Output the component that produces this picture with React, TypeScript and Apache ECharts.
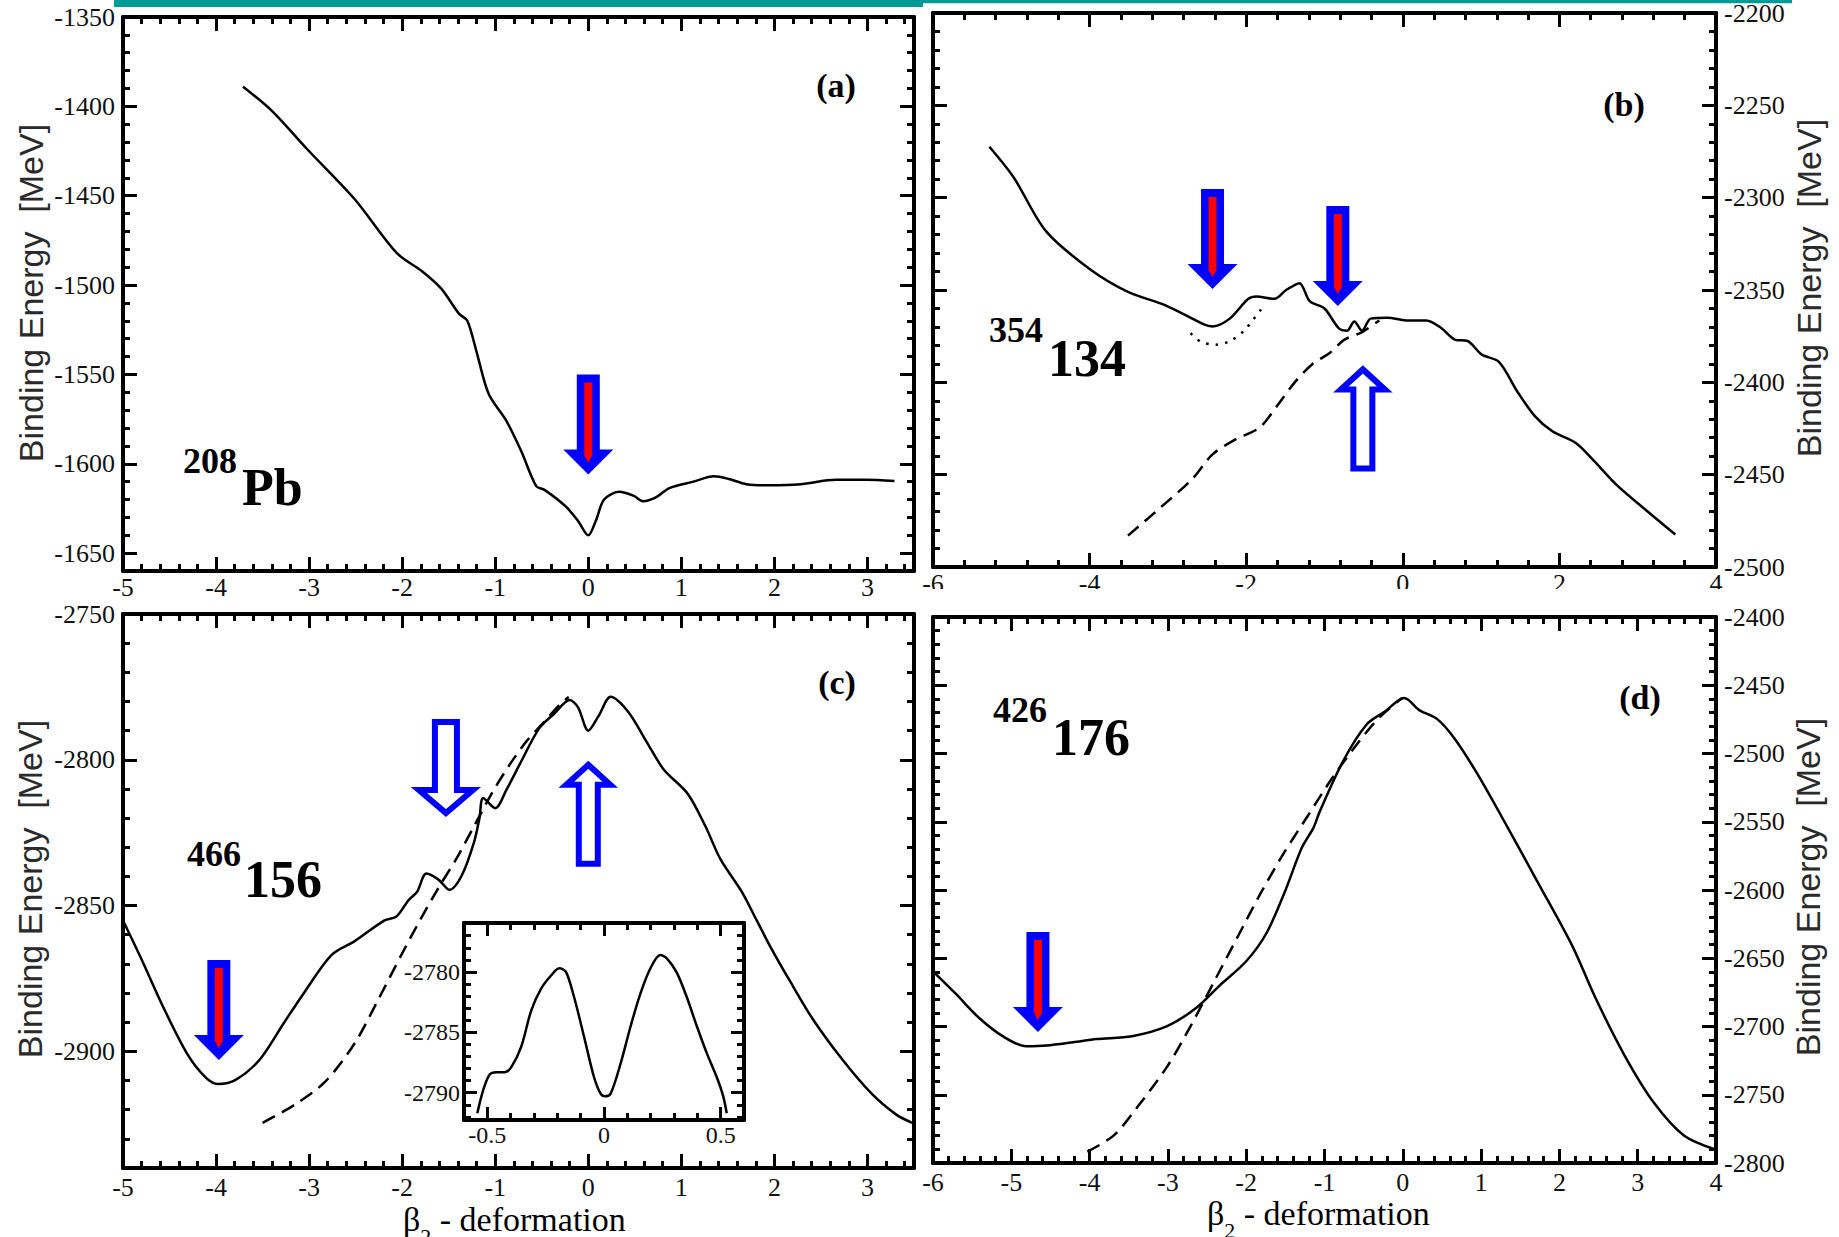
import React, { useEffect, useRef } from 'react';
import * as echarts from 'echarts';

// ---------------- data ----------------
// Panel (a) 208Pb
const aSolid: number[][] = [
  [-3.71, -1389], [-3.40, -1402.5], [-3.02, -1424], [-2.51, -1452], [-2.06, -1482], [-1.78, -1492.5],
  [-1.58, -1502], [-1.39, -1516], [-1.30, -1520], [-1.20, -1537.5], [-1.07, -1561], [-0.88, -1576],
  [-0.72, -1593], [-0.56, -1612.5], [-0.47, -1614.6], [-0.24, -1624], [-0.11, -1632], [0, -1640],
  [0.08, -1632], [0.17, -1620], [0.33, -1615.7], [0.49, -1618], [0.59, -1621], [0.72, -1619],
  [0.87, -1613.6], [1.13, -1610], [1.35, -1607], [1.51, -1608.5], [1.70, -1611.4], [1.96, -1612],
  [2.28, -1611.4], [2.66, -1609], [2.98, -1609], [3.29, -1609.7],
];
// Panel (b) 354-134
const bSolid: number[][] = [
  [-5.28, -2272.4], [-4.97, -2289], [-4.56, -2318], [-4.0, -2338.6], [-3.51, -2351], [-3.03, -2358.3],
  [-2.54, -2368.6], [-2.43, -2369.7], [-2.21, -2365.5], [-1.98, -2355], [-1.87, -2353.5], [-1.64, -2354.8],
  [-1.49, -2350], [-1.32, -2346.3], [-1.19, -2356], [-1.0, -2360], [-0.82, -2370.6], [-0.71, -2372],
  [-0.62, -2367], [-0.52, -2372], [-0.41, -2365.5], [-0.19, -2365], [0.04, -2366.5], [0.30, -2366.5],
  [0.49, -2370.6], [0.67, -2377], [0.82, -2377.5], [1.01, -2385], [1.23, -2389], [1.46, -2404.8],
  [1.68, -2418], [1.91, -2426.5], [2.21, -2432.8], [2.43, -2442], [2.73, -2455.5], [3.10, -2469],
  [3.48, -2482.4],
];
const bDotted: number[][] = [
  [-2.71, -2373.4], [-2.58, -2378], [-2.39, -2379.6], [-2.20, -2377.5], [-2.02, -2371.7], [-1.79, -2359.3],
];
const bDashed: number[][] = [
  [-3.51, -2483], [-3.10, -2468], [-2.69, -2452.4], [-2.43, -2439], [-2.13, -2430.8], [-1.83, -2424.5],
  [-1.61, -2413], [-1.38, -2400], [-1.16, -2390.3], [-0.93, -2384], [-0.75, -2377], [-0.52, -2372.8],
  [-0.30, -2366.5],
];
// Panel (c) 466-156
const cSolid: number[][] = [
  [-5, -2855.1], [-4.81, -2867.8], [-4.55, -2886], [-4.30, -2901.4], [-4.11, -2909], [-3.98, -2911.2],
  [-3.79, -2909.8], [-3.53, -2902.8], [-3.27, -2890.2], [-3.05, -2879.7], [-2.76, -2867], [-2.51, -2862.2],
  [-2.19, -2855.1], [-2.06, -2853.7], [-1.93, -2848.1], [-1.84, -2845.3], [-1.74, -2839], [-1.61, -2841.1],
  [-1.49, -2844.6], [-1.36, -2839.7], [-1.23, -2828.5], [-1.17, -2820.1], [-1.13, -2813.1], [-1.0, -2816.6],
  [-0.88, -2810.3], [-0.72, -2800.5], [-0.53, -2789.3], [-0.37, -2784.3], [-0.20, -2779.5], [-0.11, -2782],
  [0.0, -2790], [0.11, -2785], [0.24, -2778.4], [0.43, -2783.6], [0.62, -2793.5], [0.81, -2803.3],
  [1.07, -2811.7], [1.26, -2822.9], [1.42, -2834.1], [1.65, -2845.3], [1.81, -2855.1], [1.96, -2864.3],
  [2.16, -2875.5], [2.41, -2888.8], [2.73, -2902.8], [3.05, -2914.7], [3.31, -2921.7], [3.48, -2924.5],
];
const cDashed: number[][] = [
  [-3.50, -2924.5], [-3.15, -2918.2], [-2.83, -2910.5], [-2.51, -2897.2], [-2.25, -2881.8], [-2.0, -2866.4],
  [-1.81, -2855.1], [-1.61, -2843.9], [-1.42, -2834.1], [-1.23, -2822.9], [-1.04, -2811.7], [-0.85, -2801.9],
  [-0.66, -2793.5], [-0.46, -2786.5], [-0.30, -2780.8], [-0.21, -2778.5],
];
const cInset: number[][] = [
  [-0.543, -2791.7], [-0.518, -2789.8], [-0.49, -2788.5], [-0.462, -2788.3], [-0.426, -2788.3],
  [-0.398, -2787.9], [-0.355, -2786.2], [-0.312, -2783.2], [-0.27, -2781.4], [-0.227, -2780.3],
  [-0.192, -2779.7], [-0.163, -2780], [-0.128, -2782.1], [-0.085, -2785.4], [-0.043, -2788.7],
  [-0.014, -2790.1], [0.004, -2790.3], [0.028, -2790.1], [0.071, -2787.6], [0.114, -2784.5],
  [0.156, -2781.8], [0.199, -2779.7], [0.241, -2778.6], [0.27, -2778.9], [0.313, -2780.1],
  [0.355, -2782.1], [0.398, -2784.5], [0.44, -2786.7], [0.483, -2788.7], [0.511, -2790.3], [0.526, -2791.7],
];
// Panel (d) 426-176
const dSolid: number[][] = [
  [-6, -2659.6], [-5.71, -2676], [-5.41, -2693.8], [-5.11, -2707.1], [-4.81, -2714.5], [-4.55, -2714],
  [-4.21, -2711.6], [-3.91, -2709.2], [-3.46, -2707.1], [-3.01, -2699.7], [-2.64, -2686.4], [-2.34, -2670],
  [-2.0, -2652.2], [-1.74, -2631.5], [-1.51, -2601.8], [-1.29, -2569.1], [-1.14, -2554.3], [-1.06, -2542.4],
  [-0.76, -2505.3], [-0.46, -2478.6], [-0.24, -2469.7], [0.02, -2459.3], [0.21, -2468.2], [0.44, -2474.8],
  [0.66, -2489], [0.96, -2515.7], [1.34, -2554.3], [1.71, -2592.9], [2.16, -2640.4], [2.46, -2679],
  [2.84, -2722], [3.21, -2756.1], [3.59, -2779.8], [4.0, -2790.2],
];
const dDashed: number[][] = [
  [-4.03, -2791.7], [-3.69, -2779.8], [-3.39, -2759], [-3.01, -2729.4], [-2.71, -2699.7], [-2.41, -2667.1],
  [-2.11, -2634.4], [-1.81, -2601.8], [-1.51, -2572.1], [-1.21, -2545.4], [-0.91, -2518.7], [-0.61, -2495],
  [-0.31, -2474.2], [-0.01, -2459.3],
];

// arrow tips (data coordinates)
const aRedArrows = [[0, -1606]];
const bRedArrows = [[-2.43, -2349.4], [-0.83, -2358.7]];
const bHollowUpArrows = [[-0.51, -2390.3]];
const cRedArrows = [[-3.97, -2903]];
const cHollowDownArrows = [[-1.53, -2820]];
const cHollowUpArrows = [[0.0, -2800]];
const dRedArrows = [[-4.66, -2704]];

// ---------------- layout ----------------
const SERIF = 'Liberation Serif';
const SANS = 'Liberation Sans';

type Panel = {
  left: number; top: number; width: number; height: number;
  xMin: number; xMax: number; xMajor: number; xMinor: number;
  yMin: number; yMax: number; yMajor: number; yMinor: number;
  yLabelPos: 'left' | 'right'; fontSize: number; xMargin: number; yMargin: number;
  majorLen: number; minorLen: number;
};

const panels: Panel[] = [
  { left: 123, top: 17, width: 791, height: 554, xMin: -5, xMax: 3.5, xMajor: 1, xMinor: 0.2,
    yMin: -1660, yMax: -1350, yMajor: 50, yMinor: 10, yLabelPos: 'left', fontSize: 26, xMargin: 3, yMargin: 8, majorLen: 14, minorLen: 7 },
  { left: 933, top: 12, width: 783, height: 555, xMin: -6, xMax: 4, xMajor: 2, xMinor: 0.4,
    yMin: -2500, yMax: -2200, yMajor: 50, yMinor: 10, yLabelPos: 'right', fontSize: 26, xMargin: 3, yMargin: 8, majorLen: 14, minorLen: 7 },
  { left: 123, top: 614, width: 791, height: 554, xMin: -5, xMax: 3.5, xMajor: 1, xMinor: 0.2,
    yMin: -2940, yMax: -2750, yMajor: 50, yMinor: 10, yLabelPos: 'left', fontSize: 26, xMargin: 6, yMargin: 8, majorLen: 14, minorLen: 7 },
  { left: 933, top: 617, width: 783, height: 546, xMin: -6, xMax: 4, xMajor: 1, xMinor: 0.2,
    yMin: -2800, yMax: -2400, yMargin: 8, yMajor: 50, yMinor: 10, yLabelPos: 'right', fontSize: 26, xMargin: 6, majorLen: 14, minorLen: 7 },
  { left: 464, top: 923, width: 280, height: 197, xMin: -0.6, xMax: 0.6, xMajor: 0.5, xMinor: 0.1,
    yMin: -2792.26, yMax: -2775.95, yMajor: 5, yMinor: 1, yLabelPos: 'left', fontSize: 24, xMargin: 3, yMargin: 4, majorLen: 13, minorLen: 7 },
];

function ticks(min: number, max: number, step: number): number[] {
  const out: number[] = [];
  const start = Math.ceil(min / step - 1e-9);
  const end = Math.floor(max / step + 1e-9);
  for (let i = start; i <= end; i++) out.push(Math.round(i * step * 1e6) / 1e6);
  return out;
}

function mkAxis(gi: number, pos: string, min: number, max: number, values: number[], len: number,
  showLine: boolean, label: null | { values: number[]; margin: number; size: number }) {
  return {
    type: 'value', gridIndex: gi, position: pos, min, max, silent: true,
    axisLine: { show: showLine, onZero: false, lineStyle: { color: '#000', width: 4 } },
    axisTick: { show: true, inside: true, length: len, customValues: values, lineStyle: { color: '#000', width: 3 } },
    axisLabel: label
      ? { show: true, customValues: label.values, formatter: (v: number) => '{t|' + String(v) + '}', margin: label.margin,
          color: '#111', fontFamily: SERIF, fontSize: label.size, showMinLabel: true, showMaxLabel: true,
          rich: { t: { fontFamily: SERIF, fontSize: label.size, color: '#111', lineHeight: label.size } } }
      : { show: false },
    splitLine: { show: false },
    splitArea: { show: false },
    minorTick: { show: false },
  };
}

const RED = '#ff0000';
const BLUE = '#0000ff';

function renderArrow(params: any, api: any) {
  const kind = api.value(2);
  const p = api.coord([api.value(0), api.value(1)]);
  const px = p[0], py = p[1];
  if (kind === 0) {
    const L = 100, sw = 23, hw = 50, hh = 25, rw = 8;
    const outer = [[px - sw / 2, py - L], [px + sw / 2, py - L], [px + sw / 2, py - hh], [px + hw / 2, py - hh],
      [px, py], [px - hw / 2, py - hh], [px - sw / 2, py - hh]];
    const inner = [[px - rw / 2, py - L + 8], [px + rw / 2, py - L + 8], [px + rw / 2, py - 19], [px, py - 12],
      [px - rw / 2, py - 19]];
    return { type: 'group', children: [
      { type: 'polygon', shape: { points: outer }, style: { fill: BLUE } },
      { type: 'polygon', shape: { points: inner }, style: { fill: RED } },
    ] };
  }
  if (kind === 1) {
    const pts = [[px - 11, py - 96], [px + 11, py - 96], [px + 11, py - 28], [px + 27, py - 28], [px, py - 5],
      [px - 27, py - 28], [px - 11, py - 28]];
    return { type: 'polygon', shape: { points: pts }, style: { fill: '#fff', stroke: BLUE, lineWidth: 6, lineJoin: 'miter' } };
  }
  const pts = [[px - 9.5, py + 104], [px + 9.5, py + 104], [px + 9.5, py + 25], [px + 22, py + 25], [px, py + 5],
    [px - 22, py + 25], [px - 9.5, py + 25]];
  return { type: 'polygon', shape: { points: pts }, style: { fill: '#fff', stroke: BLUE, lineWidth: 6, lineJoin: 'miter' } };
}

function buildOption() {
  const grid: any[] = [];
  const xAxis: any[] = [];
  const yAxis: any[] = [];
  const idx: { x: number; y: number }[] = [];
  panels.forEach((p, gi) => {
    grid.push({ left: p.left, top: p.top, width: p.width, height: p.height, containLabel: false,
      show: gi === 4, backgroundColor: '#fff', borderWidth: 0 });
    const xMaj = ticks(p.xMin, p.xMax, p.xMajor);
    const xMin = ticks(p.xMin, p.xMax, p.xMinor);
    const yMaj = ticks(p.yMin, p.yMax, p.yMajor);
    const yMin = ticks(p.yMin, p.yMax, p.yMinor);
    const xi = xAxis.length;
    xAxis.push(mkAxis(gi, 'bottom', p.xMin, p.xMax, xMaj, p.majorLen, true, { values: xMaj, margin: p.xMargin, size: p.fontSize }));
    xAxis.push(mkAxis(gi, 'bottom', p.xMin, p.xMax, xMin, p.minorLen, false, null));
    xAxis.push(mkAxis(gi, 'top', p.xMin, p.xMax, xMaj, p.majorLen, true, null));
    xAxis.push(mkAxis(gi, 'top', p.xMin, p.xMax, xMin, p.minorLen, false, null));
    const yi = yAxis.length;
    const lab = { values: yMaj, margin: p.yMargin, size: p.fontSize };
    yAxis.push(mkAxis(gi, 'left', p.yMin, p.yMax, yMaj, p.majorLen, true, p.yLabelPos === 'left' ? lab : null));
    yAxis.push(mkAxis(gi, 'left', p.yMin, p.yMax, yMin, p.minorLen, false, null));
    yAxis.push(mkAxis(gi, 'right', p.yMin, p.yMax, yMaj, p.majorLen, true, p.yLabelPos === 'right' ? lab : null));
    yAxis.push(mkAxis(gi, 'right', p.yMin, p.yMax, yMin, p.minorLen, false, null));
    idx.push({ x: xi, y: yi });
  });

  const line = (pi: number, data: number[][], type: any) => ({
    type: 'line', xAxisIndex: idx[pi].x, yAxisIndex: idx[pi].y, data, showSymbol: false, symbol: 'none',
    smooth: 0.3, clip: true, silent: true, z: 3,
    lineStyle: { color: '#000', width: 2.5, type, cap: 'butt' },
  });
  const arrows = (pi: number, red: number[][], hDown: number[][], hUp: number[][]) => ({
    type: 'custom', xAxisIndex: idx[pi].x, yAxisIndex: idx[pi].y, silent: true, z: 5, clip: false,
    encode: { x: 0, y: 1 },
    data: [...red.map((v) => [v[0], v[1], 0]), ...hDown.map((v) => [v[0], v[1], 1]), ...hUp.map((v) => [v[0], v[1], 2])],
    renderItem: renderArrow,
  });

  const series: any[] = [
    line(0, aSolid, 'solid'),
    line(1, bSolid, 'solid'),
    line(1, bDashed, [14, 8]),
    line(1, bDotted, [2.5, 7]),
    line(2, cSolid, 'solid'),
    line(2, cDashed, [14, 8]),
    line(3, dSolid, 'solid'),
    line(3, dDashed, [14, 8]),
    line(4, cInset, 'solid'),
    arrows(0, aRedArrows, [], []),
    arrows(1, bRedArrows, [], bHollowUpArrows),
    arrows(2, cRedArrows, cHollowDownArrows, cHollowUpArrows),
    arrows(3, dRedArrows, [], []),
  ];

  const txt = (x: number, y: number, text: string, size: number, opts: any = {}) => ({
    type: 'text', x, y, z: 50, silent: true,
    style: { text, fill: '#000', fontFamily: SERIF, fontSize: size, fontWeight: 'bold', align: 'left', verticalAlign: 'middle', ...opts },
  });
  const title = (x: number, y: number) => ({
    type: 'text', x, y, rotation: Math.PI / 2, z: 50, silent: true,
    style: { text: 'Binding Energy  [MeV]', fill: '#2a2a2a', fontFamily: SANS, fontSize: 34, align: 'center', verticalAlign: 'middle' },
  });
  const beta = (x: number, y: number) => ({
    type: 'text', x, y, z: 50, silent: true,
    style: {
      text: '{b|β}{s|2}{n| - deformation}', align: 'left', verticalAlign: 'middle',
      fontFamily: SERIF, fill: '#000',
      rich: {
        b: { fontFamily: SERIF, fontSize: 34, lineHeight: 56, verticalAlign: 'middle', fill: '#000' },
        s: { fontFamily: SERIF, fontSize: 22, lineHeight: 22, verticalAlign: 'bottom', fill: '#000' },
        n: { fontFamily: SERIF, fontSize: 34, lineHeight: 56, verticalAlign: 'middle', fill: '#000' },
      },
    },
  });

  const graphic: any[] = [
    { type: 'rect', z: 60, silent: true, shape: { x: 114, y: 0, width: 809, height: 7 }, style: { fill: '#009b97' } },
    { type: 'rect', z: 60, silent: true, shape: { x: 922, y: 0, width: 870, height: 3.3 }, style: { fill: '#009b97' } },
    { type: 'rect', z: 60, silent: true, shape: { x: 922, y: 589, width: 917, height: 20 }, style: { fill: '#fff' } },
    txt(836, 85, '(a)', 34, { align: 'center' }),
    txt(1624, 104, '(b)', 34, { align: 'center' }),
    txt(837, 682, '(c)', 34, { align: 'center' }),
    txt(1640, 697, '(d)', 34, { align: 'center' }),
    txt(183, 461, '208', 36), txt(242, 487, 'Pb', 52),
    txt(989, 330, '354', 36), txt(1048, 358, '134', 52),
    txt(187, 854, '466', 36), txt(244, 879, '156', 52),
    txt(993, 710, '426', 36), txt(1052, 737, '176', 52),
    title(31, 293), title(1809, 288), title(30, 889), title(1808, 887),
    beta(403, 1219),
    beta(1207, 1213),
  ];

  return {
    animation: false, backgroundColor: '#fff',
    textStyle: { fontFamily: SERIF },
    grid, xAxis, yAxis, series, graphic,
  };
}

export default function App() {
  const ref = useRef<HTMLDivElement>(null);
  useEffect(() => {
    const chart = echarts.init(ref.current!, null, { renderer: 'svg' });
    chart.setOption(buildOption() as any);
    return () => chart.dispose();
  }, []);
  return (
    <div ref={ref} style={{ position: 'fixed', left: 0, top: 0, width: 1839, height: 1237, background: '#fff' }} />
  );
}
